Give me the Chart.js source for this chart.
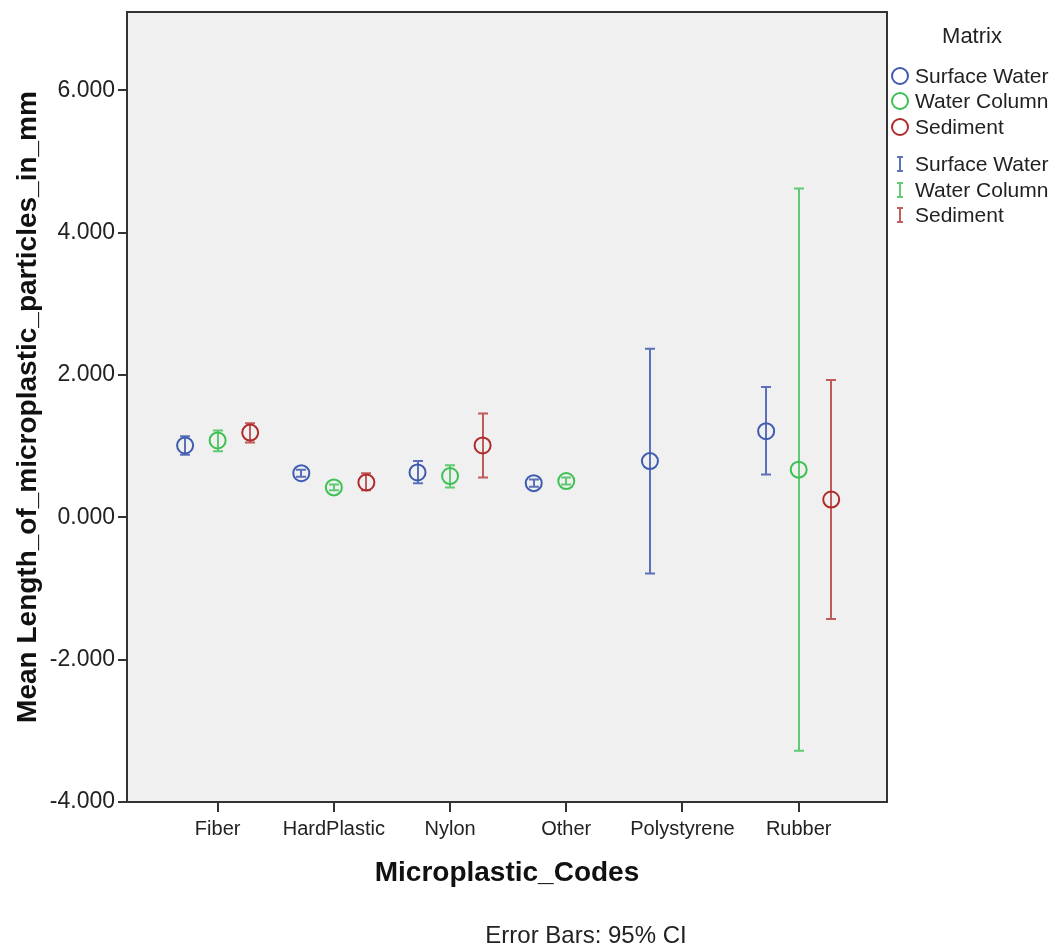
<!DOCTYPE html>
<html>
<head>
<meta charset="utf-8">
<script src="https://cdn.jsdelivr.net/npm/chart.js@4.4.1/dist/chart.umd.min.js"></script>
<style>
  html, body { margin: 0; padding: 0; background: #fff; }
</style>
</head>
<body>
<canvas id="errChart" width="1060" height="949"></canvas>
<script>
// categories on the x axis and the three Matrix groups
const categories = ['Fiber', 'HardPlastic', 'Nylon', 'Other', 'Polystyrene', 'Rubber'];
const seriesNames = ['Surface Water', 'Water Column', 'Sediment'];
const yTicks = [-4, -2, 0, 2, 4, 6];

// means and 95% CI bounds (null = no data for that group)
const surfaceMean = [1.01, 0.62, 0.63, 0.48, 0.79, 1.21];
const surfaceLow  = [0.88, 0.57, 0.48, 0.43, -0.79, 0.60];
const surfaceHigh = [1.14, 0.67, 0.79, 0.53, 2.37, 1.83];

const columnMean = [1.08, 0.42, 0.58, 0.51, null, 0.67];
const columnLow  = [0.93, 0.38, 0.42, 0.46, null, -3.28];
const columnHigh = [1.22, 0.46, 0.73, 0.56, null, 4.62];

const sedimentMean = [1.19, 0.49, 1.01, null, null, 0.25];
const sedimentLow  = [1.05, 0.38, 0.56, null, null, -1.43];
const sedimentHigh = [1.32, 0.62, 1.46, null, null, 1.93];

const colors = ['#3f5bb0', '#3cc152', '#b02a2a'];
const barColors = ['rgba(63,91,176,0.85)', 'rgba(60,193,82,0.8)', 'rgba(176,42,42,0.75)'];
const groupShift = [-0.28, 0, 0.28]; // side-by-side shift inside a category

const FONT = '"Liberation Sans", Arial, sans-serif';

function points(means, lows, highs, shift) {
  const out = [];
  means.forEach((m, i) => {
    if (m === null) return;
    out.push({ x: i + shift, y: m, lo: lows[i], hi: highs[i] });
  });
  return out;
}

const groups = [
  points(surfaceMean, surfaceLow, surfaceHigh, groupShift[0]),
  points(columnMean, columnLow, columnHigh, groupShift[1]),
  points(sedimentMean, sedimentLow, sedimentHigh, groupShift[2])
];

// plot background, frame, error bars, legend and footnote
const spssLook = {
  id: 'spssLook',
  beforeDraw(chart) {
    const { ctx, chartArea: a } = chart;
    ctx.save();
    ctx.fillStyle = '#fff';
    ctx.fillRect(0, 0, chart.width, chart.height);
    ctx.fillStyle = '#f0f0f0';
    ctx.fillRect(a.left, a.top, a.right - a.left, a.bottom - a.top);
    ctx.restore();
  },
  beforeDatasetsDraw(chart) {
    const { ctx, scales: { x, y } } = chart;
    ctx.save();
    chart.data.datasets.forEach((ds, di) => {
      ctx.strokeStyle = barColors[di];
      ctx.lineWidth = 2;
      ds.data.forEach(p => {
        const px = Math.round(x.getPixelForValue(p.x));
        const yLo = y.getPixelForValue(p.lo);
        const yHi = y.getPixelForValue(p.hi);
        ctx.beginPath();
        ctx.moveTo(px, yLo); ctx.lineTo(px, yHi);
        ctx.moveTo(px - 5, yLo); ctx.lineTo(px + 5, yLo);
        ctx.moveTo(px - 5, yHi); ctx.lineTo(px + 5, yHi);
        ctx.stroke();
      });
    });
    ctx.restore();
  },
  afterDraw(chart) {
    const { ctx, chartArea: a } = chart;
    ctx.save();
    ctx.strokeStyle = '#333';
    ctx.lineWidth = 2;
    ctx.strokeRect(a.left, a.top, a.right - a.left, a.bottom - a.top);

    // legend
    ctx.fillStyle = '#222';
    ctx.textBaseline = 'middle';
    ctx.font = '22px ' + FONT;
    ctx.textAlign = 'center';
    ctx.fillText('Matrix', 972, 37);
    ctx.font = '21px ' + FONT;
    ctx.textAlign = 'left';
    const circleY = [76, 101, 127];
    const barY = [164, 190, 215];
    seriesNames.forEach((name, i) => {
      ctx.strokeStyle = colors[i];
      ctx.lineWidth = 2;
      ctx.beginPath();
      ctx.arc(900, circleY[i], 8, 0, Math.PI * 2);
      ctx.stroke();
      ctx.fillStyle = '#222';
      ctx.fillText(name, 915, circleY[i] + 1);

      ctx.strokeStyle = barColors[i];
      ctx.beginPath();
      ctx.moveTo(900, barY[i] - 7); ctx.lineTo(900, barY[i] + 7);
      ctx.moveTo(897, barY[i] - 7); ctx.lineTo(903, barY[i] - 7);
      ctx.moveTo(897, barY[i] + 7); ctx.lineTo(903, barY[i] + 7);
      ctx.stroke();
      ctx.fillText(name, 915, barY[i] + 1);
    });

    // footnote
    ctx.font = '24px ' + FONT;
    ctx.textAlign = 'center';
    ctx.fillText('Error Bars: 95% CI', 586, 936);
    ctx.restore();
  }
};

const ctx = document.getElementById('errChart').getContext('2d');
new Chart(ctx, {
  type: 'scatter',
  data: {
    datasets: groups.map((g, i) => ({
      label: seriesNames[i],
      data: g,
      borderColor: colors[i],
      backgroundColor: 'transparent',
      borderWidth: 2,
      pointStyle: 'circle',
      pointRadius: 8,
      pointHoverRadius: 8
    }))
  },
  options: {
    responsive: false,
    animation: false,
    devicePixelRatio: 1,
    layout: { padding: { top: 12, right: 173, bottom: 0, left: 0 } },
    plugins: {
      legend: { display: false },
      tooltip: { enabled: false }
    },
    scales: {
      x: {
        type: 'linear',
        min: -0.78,
        max: 5.76,
        afterBuildTicks: s => { s.ticks = categories.map((c, i) => ({ value: i })); },
        afterFit: s => { s.height = 147; },
        ticks: {
          callback: v => categories[v],
          font: { family: FONT, size: 20 },
          color: '#222',
          padding: 5,
          autoSkip: false,
          maxRotation: 0
        },
        grid: { drawOnChartArea: false, tickLength: 10, color: '#333', lineWidth: 2 },
        border: { display: false },
        title: {
          display: true,
          text: 'Microplastic_Codes',
          font: { family: FONT, size: 28, weight: 'bold' },
          color: '#111',
          padding: { top: 0, bottom: 59 }
        }
      },
      y: {
        min: -4,
        max: 7.1,
        afterBuildTicks: s => { s.ticks = yTicks.map(v => ({ value: v })); },
        afterFit: s => { s.width = 127; s.paddingTop = 0; s.paddingBottom = 0; },
        ticks: {
          callback: v => v.toFixed(3),
          font: { family: FONT, size: 23 },
          color: '#222',
          padding: 3
        },
        grid: { drawOnChartArea: false, tickLength: 9, color: '#333', lineWidth: 2 },
        border: { display: false },
        title: {
          display: true,
          text: 'Mean Length_of_microplastic_particles_in_mm',
          font: { family: FONT, size: 28, weight: 'bold' },
          color: '#111',
          padding: { top: 11, bottom: 0 }
        }
      }
    }
  },
  plugins: [spssLook]
});
</script>
</body>
</html>
